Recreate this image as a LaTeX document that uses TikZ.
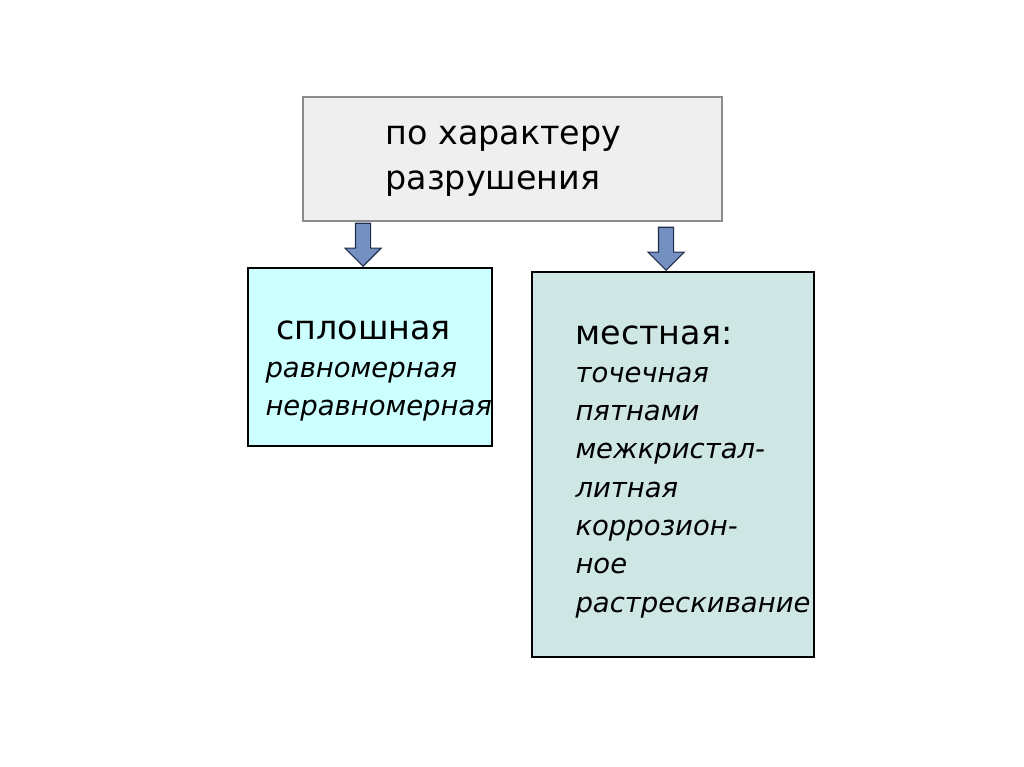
\documentclass[tikz,border=0pt]{standalone}
\usepackage{fontspec}
\setmainfont{DejaVu Sans}[ItalicFont={DejaVu Sans Oblique}]
\usetikzlibrary{shapes.arrows}

\definecolor{kindfill}{RGB}{239,239,239}
\definecolor{kindedge}{RGB}{140,140,140}
\definecolor{solidfill}{RGB}{204,255,255}
\definecolor{localfill}{RGB}{206,230,228}
\definecolor{arrowfill}{RGB}{115,144,192}
\definecolor{arrowedge}{RGB}{30,45,75}

\newcommand{\headfont}{\upshape\fontsize{25}{28.7}\selectfont}

\tikzset{every picture/.style={line width=0.75pt}}
\tikzset{
  typebox/.style={draw, line width=1.2, inner sep=0},
  blockarrow/.style={single arrow, shape border rotate=270, draw=arrowedge, fill=arrowfill,
    line width=0.8, inner sep=7*0.75pt, minimum height=43*0.75pt, minimum width=35*0.75pt,
    single arrow head extend=10.5*0.75pt, anchor=tip},
  boxtext/.style={anchor=north west, inner sep=0, align=left,
    font=\fontsize{20.6}{28.7}\selectfont\itshape}
}

\begin{document}
\begin{tikzpicture}[x=0.75pt,y=0.75pt,yscale=-1,xscale=1]
\useasboundingbox (0,0) rectangle (1024,767); %whole slide

%Boxes
\node [typebox, draw=kindedge, line width=1.6, fill=kindfill, minimum width=419*0.75pt, minimum height=124*0.75pt] (kind) at (512.5,159) {};
\node [typebox, fill=solidfill, minimum width=244*0.75pt, minimum height=178*0.75pt] (solid) at (370,357) {};
\node [typebox, fill=localfill, minimum width=282*0.75pt, minimum height=385*0.75pt] (local) at (673,464.5) {};

%Block arrows
\node [blockarrow] (arrsolid) at (363,267) {};
\node [blockarrow] (arrlocal) at (666,271) {};

% Text Node
\node [anchor=north west, inner sep=0, align=left, font=\fontsize{25}{33.75}\selectfont] (kindtext) at (385,125) {по характеру\\разрушения};
% Text Node
\node [boxtext] (solidtext) at (265,320) {\hspace*{8pt}{\headfont сплошная}\\равномерная\\неравномерная};
% Text Node
\node [boxtext] (localtext) at (575,325) {{\headfont местная:}\\точечная\\пятнами\\межкристал-\\литная\\коррозион-\\ное\\растрескивание};

\end{tikzpicture}
\end{document}
